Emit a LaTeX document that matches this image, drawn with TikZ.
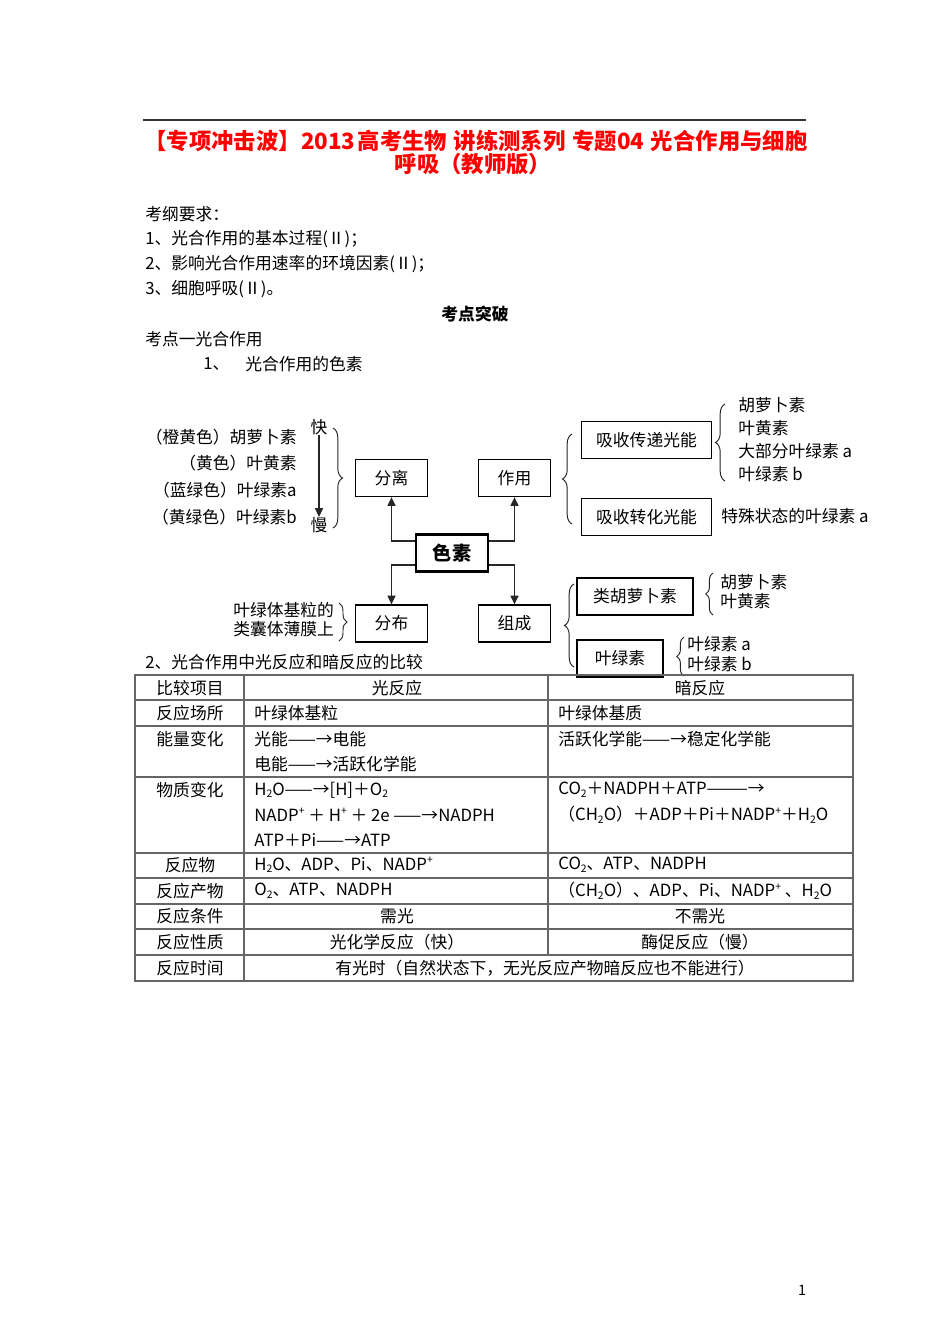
\documentclass[tikz,border=0pt]{standalone}
\usepackage{fontspec}
\setmainfont{Noto Sans CJK SC}
\usetikzlibrary{arrows.meta,decorations.pathreplacing,calc}
\newcommand\pxu{0.6263pt}
\newcommand\fs{\fontsize{10.5pt}{12pt}\selectfont}
\newcommand\sbs[1]{\raisebox{-0.3ex}{\fontsize{6.5pt}{7pt}\selectfont #1}}
\newcommand\sps[1]{\raisebox{0.7ex}{\fontsize{6.5pt}{7pt}\selectfont #1}}
\tikzset{
  txt/.style={inner sep=0pt, anchor=west, font=\fs},
  txe/.style={inner sep=0pt, anchor=east, font=\fs},
  txc/.style={inner sep=0pt, font=\fs},
  box/.style={draw=black, line width=0.8pt, inner sep=0pt, font=\fs, minimum height=37*\pxu},
  arr/.style={draw=black!85, line width=0.9pt, -{Triangle[length=5.5pt, width=5pt]}},
  br/.style={draw=black!85, line width=0.6pt, decorate, decoration={brace, amplitude=#1}},
  br/.default=6pt,
  tl/.style={draw=black!60, line width=0.7pt},
}
\begin{document}
\begin{tikzpicture}[x=\pxu, y=-\pxu]
\fill[white] (0,0) rectangle (950,1344);
\useasboundingbox (0,0) rectangle (950,1344);
% header
\draw[black!80, line width=1.2pt] (143,120) -- (806,120);
\node[inner sep=0pt, font=\fontsize{14pt}{16pt}\selectfont\bfseries, text=red] (t1) at (476,141) {【专项冲击波】2013\hspace{0.1em}高考生物\hspace{0.3em}讲练测系列\hspace{0.3em}专题04\hspace{0.3em}光合作用与细胞};
\node[inner sep=0pt, font=\fontsize{14pt}{16pt}\selectfont\bfseries, text=red] (t2) at (473,164) {呼吸（教师版）};
\node[txt] (k0) at (145,214) {考纲要求：};
\node[txt] (k1) at (145,239) {1、光合作用的基本过程(Ⅱ)；};
\node[txt] (k2) at (145,264) {2、影响光合作用速率的环境因素(Ⅱ)；};
\node[txt] (k3) at (145,289) {3、细胞呼吸(Ⅱ)。};
\node[txc, font=\fs\bfseries] (kd) at (475,314) {考点突破};
\node[txt] (k4) at (145,339) {考点一光合作用};
\node[txt] (k5) at (203,364) {1、};
\node[txt] (k6) at (245,364) {光合作用的色素};
% left list
\node[txe] (l1) at (297,437) {（橙黄色）胡萝卜素};
\node[txe] (l2) at (297,463) {（黄色）叶黄素};
\node[txe] (l3) at (297,490) {（蓝绿色）叶绿素a};
\node[txe] (l4) at (297,517) {（黄绿色）叶绿素b};
\node[txc] (kuai) at (319,427) {快};
\node[txc] (man) at (319,525) {慢};
\draw[arr] (kuai.south) -- (man.north);
\draw[br=6pt] (333,428) -- (333,528);
% boxes
\node[box, minimum width=72*\pxu] (fenli) at (391.5,478) {分离};
\node[box, minimum width=72*\pxu] (zuoyong) at (514.5,478) {作用};
\node[box, minimum width=72*\pxu, minimum height=37*\pxu, line width=1.8pt, font=\fontsize{12pt}{14pt}\selectfont\bfseries] (sesu) at (452,553) {色素};
\node[box, minimum width=72*\pxu] (fenbu) at (391.5,623.5) {分布};
\node[box, minimum width=72*\pxu] (zucheng) at (514.5,623.5) {组成};
\node[box, minimum width=130*\pxu] (xc) at (646.5,440) {吸收传递光能};
\node[box, minimum width=130*\pxu] (xz) at (646.5,517) {吸收转化光能};
\node[box, minimum width=116*\pxu] (lhl) at (635,596.5) {类胡萝卜素};
\node[box, minimum width=86*\pxu] (ylv) at (620,658.5) {叶绿素};
% connectors
\draw[arr] ([yshift=12*\pxu]sesu.west) -| (fenli.south);
\draw[arr] ([yshift=12*\pxu]sesu.east) -| (zuoyong.south);
\draw[arr] ([yshift=-12*\pxu]sesu.west) -| (fenbu.north);
\draw[arr] ([yshift=-12*\pxu]sesu.east) -| (zucheng.north);
% distribution
\node[txt] (d1) at (233,610) {叶绿体基粒的};
\node[txt] (d2) at (233,629) {类囊体薄膜上};
\draw[br=5pt] (339,603) -- (339,641);
% function braces
\draw[br=6pt] (572,524) -- (572,434);
\draw[br=6pt] (725,481) -- (725,404);
\node[txt] (f1) at (738,405) {胡萝卜素};
\node[txt] (f2) at (738,428) {叶黄素};
\node[txt] (f3) at (738,451) {大部分叶绿素 a};
\node[txt] (f4) at (738,474) {叶绿素 b};
\node[txt] (f5) at (721,516) {特殊状态的叶绿素 a};
% composition braces
\draw[br=6pt] (574,667) -- (574,584);
\draw[br=4.5pt] (713,615) -- (713,573);
\node[txt] (c1) at (720,582) {胡萝卜素};
\node[txt] (c2) at (720,601) {叶黄素};
\draw[br=4.5pt] (684,676) -- (684,637);
\node[txt] (c3) at (687,644) {叶绿素 a};
\node[txt] (c4) at (687,664) {叶绿素 b};
% section 2
\node[txt] (s2) at (145,662) {2、光合作用中光反应和暗反应的比较};
% table
\draw[tl] (135,675) rectangle (853,981);
\foreach \yy in {700,726,777,853,878,904,929,955} \draw[tl] (135,\yy) -- (853,\yy);
\draw[tl] (244,675) -- (244,981);
\draw[tl] (548,675) -- (548,955);
\node[txc] (r0) at (190,688) {比较项目};
\node[txc] (r1) at (190,713) {反应场所};
\node[txc] (r2) at (190,739) {能量变化};
\node[txc] (r3) at (190,790) {物质变化};
\node[txc] (r4) at (190,865) {反应物};
\node[txc] (r5) at (190,891) {反应产物};
\node[txc] (r6) at (190,916) {反应条件};
\node[txc] (r7) at (190,942) {反应性质};
\node[txc] (r8) at (190,968) {反应时间};
\node[txc] (h1) at (397,688) {光反应};
\node[txc] (h2) at (700,688) {暗反应};
\node[txt] (a1) at (254,713) {叶绿体基粒};
\node[txt] (b1) at (558,713) {叶绿体基质};
\node[txt] (a2) at (254,739) {光能——→电能};
\node[txt] (a3) at (254,764) {电能——→活跃化学能};
\node[txt] (b2) at (558,739) {活跃化学能——→稳定化学能};
\node[txt] (a4) at (254,790) {H\sbs{2}O——→[H]＋O\sbs{2}};
\node[txt] (a5) at (254,815) {NADP\sps{+} ＋ H\sps{+} ＋ 2e ——→NADPH};
\node[txt] (a6) at (254,840) {ATP＋Pi——→ATP};
\node[txt] (b3) at (558,790) {CO\sbs{2}＋NADPH＋ATP———→};
\node[txt] (b4) at (558,815) {（CH\sbs{2}O）＋ADP＋Pi＋NADP\sps{+}＋H\sbs{2}O};
\node[txt] (a7) at (254,865) {H\sbs{2}O、ADP、Pi、NADP\sps{+}};
\node[txt] (b5) at (558,865) {CO\sbs{2}、ATP、NADPH};
\node[txt] (a8) at (254,891) {O\sbs{2}、ATP、NADPH};
\node[txt] (b6) at (558,891) {（CH\sbs{2}O）、ADP、Pi、NADP\sps{+} 、H\sbs{2}O};
\node[txc] (a9) at (397,916) {需光};
\node[txc] (b7) at (700,916) {不需光};
\node[txc] (a10) at (397,942) {光化学反应（快）};
\node[txc] (b8) at (700,942) {酶促反应（慢）};
\node[txc] (a11) at (545,968) {有光时（自然状态下，无光反应产物暗反应也不能进行）};
% page number
\node[txc, font=\fontsize{9pt}{10pt}\selectfont] (pg) at (802,1290) {1};
\end{tikzpicture}
\end{document}
